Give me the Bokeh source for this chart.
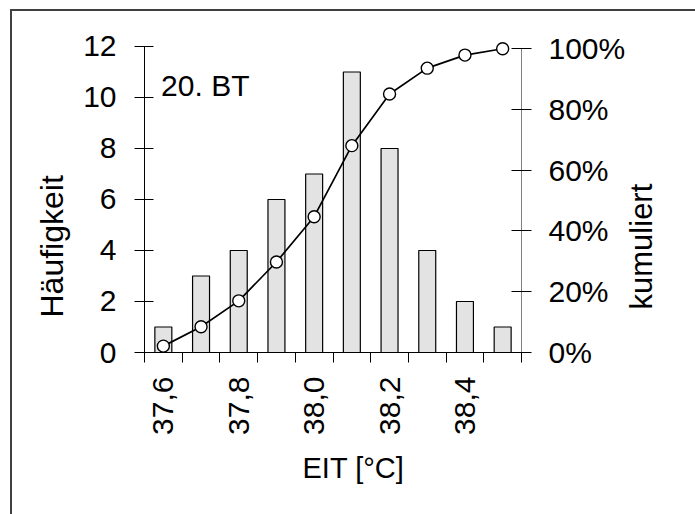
import math
from bokeh.plotting import figure
from bokeh.models import Range1d, LinearAxis, FixedTicker, Label, Title, InlineStyleSheet
from bokeh.embed import file_html
from bokeh.resources import INLINE

# ---- data ----
temps = [37.6, 37.7, 37.8, 37.9, 38.0, 38.1, 38.2, 38.3, 38.4, 38.5]
counts = [1, 3, 4, 6, 7, 11, 8, 4, 2, 1]
cum_pct = [2.1, 8.5, 17.0, 29.8, 44.7, 68.1, 85.1, 93.6, 97.9, 100.0]
x_label_ticks = [37.6, 37.8, 38.0, 38.2, 38.4]
x_tick_labels = ["37,6", "37,8", "38,0", "38,2", "38,4"]
bin_edges = [37.55, 37.65, 37.75, 37.85, 37.95, 38.05, 38.15, 38.25, 38.35, 38.45, 38.55]
count_ticks = [0, 2, 4, 6, 8, 10, 12]
pct_ticks = [0, 20, 40, 60, 80, 100]
pct_labels = ["0%", "20%", "40%", "60%", "80%", "100%"]
x_title = "EIT [°C]"
y_title = "Häufigkeit"
y2_title = "kumuliert"
panel_note = "20. BT"

FONT = "Liberation Sans"
TICK_SIZE = "30px"
TITLE_SIZE = "31px"

frame_css = InlineStyleSheet(css="""
:host { position: relative; }
:host::after {
  content: ""; position: absolute; left: 10px; top: 9px;
  width: 700px; height: 520px;
  border-left: 2px solid #404040; border-top: 2px solid #404040;
  pointer-events: none;
}
""")

p = figure(width=695, height=514, output_backend="svg", toolbar_location=None,
           x_range=Range1d(37.55, 38.55), y_range=Range1d(0, 12.627),
           min_border_left=144, min_border_right=174, min_border_top=30,
           min_border_bottom=162, x_axis_location=None, y_axis_location=None,
           stylesheets=[frame_css])
p.grid.visible = False
p.outline_line_color = None
p.background_fill_color = "white"
p.border_fill_color = "white"
p.extra_y_ranges = {"pct": Range1d(0, 106.0)}

# bottom axis
xa = LinearAxis(ticker=FixedTicker(ticks=x_label_ticks, minor_ticks=bin_edges))
xa.major_label_overrides = {t: l for t, l in zip(x_label_ticks, x_tick_labels)}
xa.major_label_orientation = math.pi / 2
xa.major_tick_line_color = None
xa.major_tick_in = 0
xa.major_tick_out = 0
xa.minor_tick_in = 0
xa.minor_tick_out = 10
xa.minor_tick_line_color = "black"
xa.axis_line_color = "black"
xa.major_label_standoff = 14
xa.major_label_text_font = FONT
xa.major_label_text_font_size = TICK_SIZE
xa.major_label_text_color = "black"
p.add_layout(xa, "below")

# left axis
ya = LinearAxis(ticker=FixedTicker(ticks=count_ticks, minor_ticks=[]), bounds=(0, 12))
ya.major_tick_in = 9
ya.major_tick_out = 10
ya.major_tick_line_color = "black"
ya.minor_tick_line_color = None
ya.axis_line_color = "black"
ya.major_label_standoff = 18
ya.major_label_text_font = FONT
ya.major_label_text_font_size = TICK_SIZE
ya.major_label_text_color = "black"
p.add_layout(ya, "left")

# right axis
ra = LinearAxis(y_range_name="pct", ticker=FixedTicker(ticks=pct_ticks, minor_ticks=[]),
                bounds=(0, 100))
ra.major_label_overrides = {t: l for t, l in zip(pct_ticks, pct_labels)}
ra.major_tick_in = 10
ra.major_tick_out = 10
ra.major_tick_line_color = "black"
ra.minor_tick_line_color = None
ra.axis_line_color = "#808080"
ra.major_label_standoff = 17
ra.major_label_text_font = FONT
ra.major_label_text_font_size = TICK_SIZE
ra.major_label_text_color = "black"
# non-breaking spaces lift the title off the bottom edge, as in the original
ra.axis_label = "\u00a0" * 5 + y2_title
ra.axis_label_text_font = FONT
ra.axis_label_text_font_size = TITLE_SIZE
ra.axis_label_text_font_style = "normal"
ra.axis_label_text_color = "black"
ra.axis_label_standoff = 13
ra.axis_label_orientation = math.pi / 2
if "axis_label_align" in ra.properties():
    ra.axis_label_align = "start"
p.add_layout(ra, "right")

# axis titles as side titles
p.add_layout(Title(text=x_title, align="left", offset=158, standoff=24,
                   text_font=FONT, text_font_size="29px",
                   text_font_style="normal", text_color="black"), "below")
p.add_layout(Title(text=y_title, align="left", offset=35, standoff=21,
                   text_font=FONT, text_font_size="32px",
                   text_font_style="normal", text_color="black"), "left")

# bars
p.vbar(x=temps, top=counts, width=0.045, fill_color="#e3e3e3",
       line_color="black", line_width=1.2)

# cumulative line
p.line(x=temps, y=cum_pct, y_range_name="pct", line_color="black", line_width=1.7)
p.scatter(x=temps, y=cum_pct, y_range_name="pct", size=12, marker="circle",
          fill_color="white", line_color="black", line_width=1.4)

# panel note
p.add_layout(Label(x=37.594, y=10.47, text=panel_note, text_font=FONT,
                   text_font_size="30px", text_color="black",
                   text_baseline="alphabetic", text_align="left"))

open("out.html", "w").write(file_html(p, INLINE))
